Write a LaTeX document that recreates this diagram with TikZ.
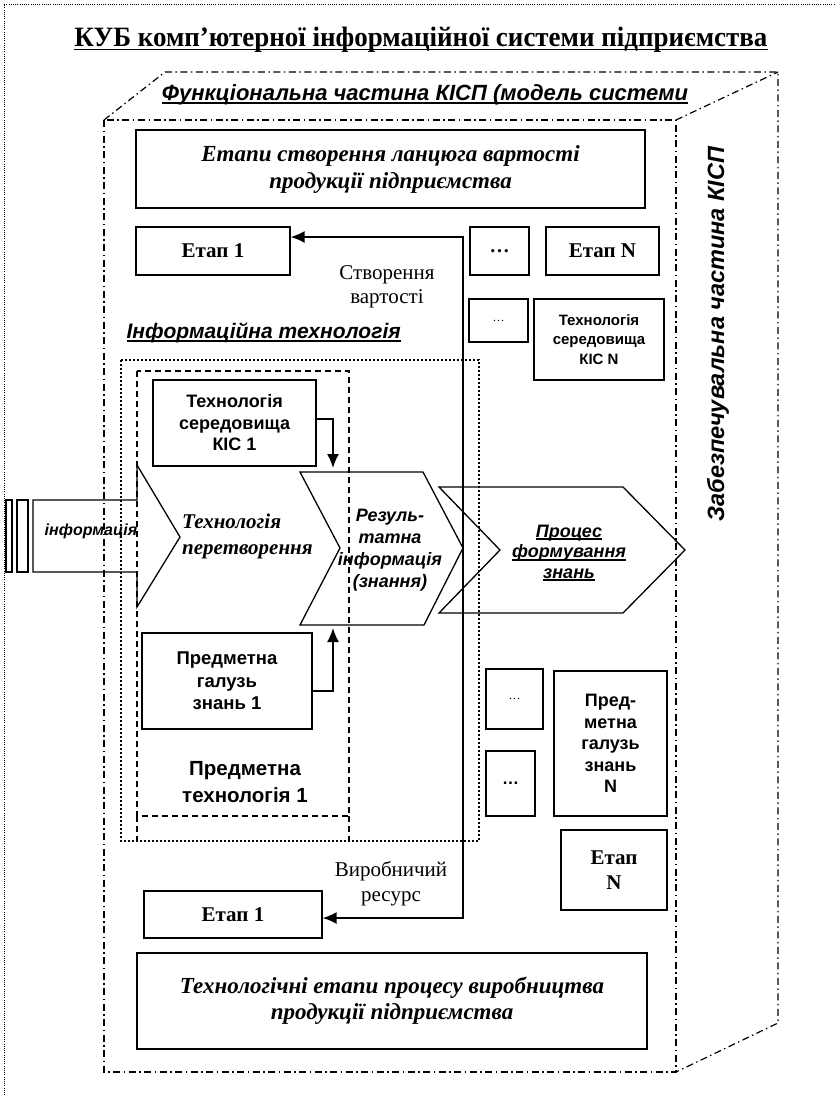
\documentclass[tikz,border=0pt]{standalone}
\usepackage{fontspec}
\setmainfont{Liberation Serif}
\newfontfamily\arialf{Liberation Sans}
\usepackage{graphicx}
\usetikzlibrary{arrows.meta}
\newsavebox\ulbox
\newcommand{\ulx}[1]{\sbox\ulbox{#1}\rlap{\rule[-0.16em]{\wd\ulbox}{1.8pt}}\usebox\ulbox}
\newcommand{\fsz}[2]{\fontsize{#1}{#2}\selectfont}
\begin{document}
\begin{tikzpicture}[x=1pt,y=-1pt,
  box/.style={draw, line width=1.3pt, inner sep=0pt, align=center},
  dashdot/.style={line width=1.2pt, dash pattern=on 7pt off 3.5pt on 1.5pt off 3.5pt},
  dotline/.style={line width=1.6pt, dash pattern=on 1.6pt off 2.4pt},
  dashline/.style={line width=1.2pt, dash pattern=on 6pt off 4pt},
  fineline/.style={line width=0.8pt, dash pattern=on 0.8pt off 1.4pt},
  conn/.style={line width=1.5pt, -{Latex[length=14pt,width=12pt]}},
  chev/.style={line width=1.3pt, line join=miter},
]
\useasboundingbox (0,0) rectangle (835,1095);
% outer frame
\draw[fineline] (4,1095) -- (4,4) -- (835,4);
% title
\node[anchor=base, inner sep=0pt, font=\bfseries\fsz{28}{32}] (title) at (421,46) {\resizebox{693pt}{\height}{\ulx{КУБ комп’ютерної інформаційної системи підприємства}}};
% cube back
\draw[dashdot] (104,120) -- (165,72) -- (778,72) -- (778,1023) -- (676,1072);
\draw[dashdot] (676,120) -- (778,72);
\node[anchor=base, inner sep=0pt, font=\arialf\bfseries\itshape\fsz{22}{26}] (func) at (425,100) {\ulx{Функціональна частина КІСП (модель системи}};
% cube front
\draw[dashdot] (104,120) rectangle (676,1072);
\node[rotate=90, font=\arialf\bfseries\itshape\fsz{23.5}{28}] (zab) at (718,334) {Забезпечувальна частина КІСП};
% top boxes
\node[box, minimum width=509pt, minimum height=78pt, font=\bfseries\itshape\fsz{23}{27}] (stagesT) at (390.5,169) {Етапи створення ланцюга вартості\\продукції підприємства};
\node[box, minimum width=154pt, minimum height=48pt, font=\bfseries\fsz{21}{24}] (etap1T) at (213,251) {Етап 1};
\node[box, minimum width=59pt, minimum height=48pt, font=\bfseries\fsz{20}{24}] (dotsT) at (499.5,251) {…};
\node[box, minimum width=113pt, minimum height=48pt, font=\bfseries\fsz{21}{24}] (etapNT) at (602.5,251) {Етап N};
\node[box, minimum width=59pt, minimum height=43pt, font=\fsz{12}{14}] (dots2) at (498.5,320.5) {…};
\node[box, minimum width=130pt, minimum height=81pt, font=\arialf\bfseries\fsz{15}{19.5}] (techN) at (599,339.5) {Технологія\\середовища\\КІС N};
\node[font=\fsz{21}{24}, align=center] (cv) at (387,287) {Створення\\вартості};
% information technology
\node[anchor=west, font=\arialf\bfseries\itshape\fsz{21}{25}] (itl) at (123,333) {\ulx{Інформаційна технологія}};
\draw[dotline] (121,360) rectangle (479,841);
\draw[dashline] (137,371) rectangle (349,816);
\draw[dashline] (137,816) -- (137,841);
\draw[dashline] (349,816) -- (349,841);
\node[box, minimum width=163pt, minimum height=86pt, font=\arialf\bfseries\fsz{18}{21.5}] (tech1) at (234.5,423) {Технологія\\середовища\\КІС 1};
\node[box, minimum width=170pt, minimum height=96pt, font=\arialf\bfseries\fsz{18.5}{22.5}] (pred1) at (227,681) {Предметна\\галузь\\знань 1};
\node[font=\arialf\bfseries\fsz{20.5}{27}, align=center] (pt1) at (245,782) {Предметна\\технологія 1};
% chevrons
\draw[chev] (6,500) rectangle (12,572);
\draw[chev] (17,500) rectangle (28,572);
\draw[chev] (33,500) -- (137,500) -- (137,465) -- (180,537) -- (137,607) -- (137,572) -- (33,572) -- cycle;
\node[font=\arialf\bfseries\itshape\fsz{16}{19}] (infoT) at (91,531) {інформація};
\node[anchor=west, inner sep=0pt, font=\bfseries\itshape\fsz{21}{26}, align=left] (transT) at (182,536) {Технологія\\перетворення};
\draw[chev] (300,472) -- (423,472) -- (463,548) -- (424,625) -- (300,625) -- (340,548) -- cycle;
\node[font=\arialf\bfseries\itshape\fsz{18}{22}, align=center] (resT) at (390,550) {Резуль-\\татна\\інформація\\(знання)};
\draw[chev] (439,487) -- (623,487) -- (685,550) -- (623,613) -- (439,613) -- (500,550) -- cycle;
\node[font=\arialf\bfseries\itshape\fsz{18}{20.5}, align=center] (procT) at (569,553) {\ulx{Процес}\\\ulx{формування}\\\ulx{знань}};
% connectors into result
\coordinate (a1) at (333,419);
\coordinate (resTop) at (333,468);
\draw[conn] (tech1.east |- a1) -- (a1) -- (resTop);
\coordinate (a2) at (333,691);
\coordinate (resBot) at (333,628);
\draw[conn] (pred1.east |- a2) -- (a2) -- (resBot);
% right lower boxes
\node[box, minimum width=57pt, minimum height=60pt, font=\fsz{12}{14}] (dots3) at (514.5,699) {…};
\node[box, minimum width=49pt, minimum height=65pt, font=\arialf\bfseries\fsz{17}{20}] (dots4) at (510.5,783.5) {…};
\node[box, minimum width=113pt, minimum height=145pt, font=\arialf\bfseries\fsz{18}{21.5}] (predN) at (610.5,743.5) {Пред-\\метна\\галузь\\знань\\N};
\node[box, minimum width=106pt, minimum height=80pt, font=\bfseries\fsz{21}{25}] (etapN2) at (614,870) {Етап\\N};
% bottom
\node[font=\fsz{21}{25}, align=center] (vr) at (391,884) {Виробничий\\ресурс};
\node[box, minimum width=178pt, minimum height=47pt, font=\bfseries\fsz{21}{24}] (etap1B) at (233,914.5) {Етап 1};
\node[box, minimum width=510pt, minimum height=96pt, font=\bfseries\itshape\fsz{23}{26}] (stagesB) at (392,1001) {Технологічні етапи процесу виробництва\\продукції підприємства};
% value/resource connector
\coordinate (vT) at (463,237);
\coordinate (vB) at (463,918);
\draw[line width=1.5pt, {Latex[length=14pt,width=12pt]}-{Latex[length=14pt,width=12pt]}] (etap1T.east |- vT) -- (vT) -- (vB) -- (etap1B.east |- vB);
\end{tikzpicture}
\end{document}
